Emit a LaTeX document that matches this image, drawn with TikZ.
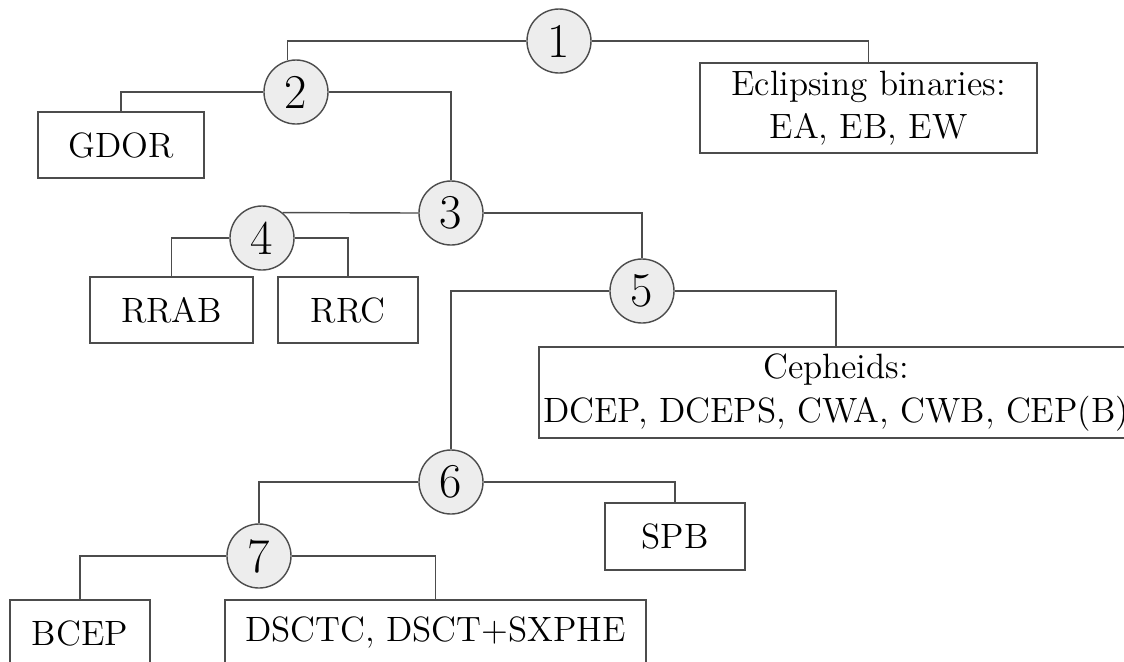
\documentclass[tikz,border=0pt]{standalone}
\begin{document}
\begin{tikzpicture}[
  x=0.0125cm, y=-0.0125cm,
  split/.style={circle, draw=black!70, line width=0.5pt, fill=black!7,
    minimum size=0.8cm, inner sep=0pt, font=\LARGE},
  leaf/.style={rectangle, draw=black!70, line width=0.5pt, align=center,
    inner sep=0pt, font=\fontsize{12.5}{15.5}\selectfont},
  link/.style={draw=black!70, line width=0.5pt}]
  \clip (0,0) rectangle (1124,661);
  \node[split] (n1) at (559,41) {1};
  \node[split] (n2) at (296,92) {2};
  \node[split] (n3) at (451,213) {3};
  \node[split] (n4) at (262,238) {4};
  \node[split] (n5) at (642,291) {5};
  \node[split] (n6) at (451,482) {6};
  \node[split] (n7) at (259,556) {7};
  \node[leaf, minimum width=2.075cm, minimum height=0.825cm] (gdor) at (121,145) {GDOR};
  \node[leaf, minimum width=4.21cm, minimum height=1.125cm] (ecl) at (868.5,108)
    {Eclipsing binaries:\\EA, EB, EW};
  \node[leaf, minimum width=2.04cm, minimum height=0.825cm] (rrab) at (171.5,310) {RRAB};
  \node[leaf, minimum width=1.75cm, minimum height=0.825cm] (rrc) at (348,310) {RRC};
  \node[leaf, minimum width=7.425cm, minimum height=1.14cm] (ceph) at (836,392.5)
    {Cepheids:\\DCEP, DCEPS, CWA, CWB, CEP(B)};
  \node[leaf, minimum width=1.75cm, minimum height=0.84cm] (spb) at (675,536.5) {SPB};
  \node[leaf, minimum width=1.75cm, minimum height=0.825cm] (bcep) at (80,633) {BCEP};
  \node[leaf, minimum width=5.26cm, minimum height=0.825cm] (dsct) at (435.5,633)
    {DSCTC, DSCT+SXPHE};
  \draw[link] (n1.west) -| (n2.105);
  \draw[link] (n1.east) -| (ecl.north);
  \draw[link] (n2.west) -| (gdor.north);
  \draw[link] (n2.east) -| (n3.north);
  \draw[link] (n3.west) -- (n4.51);
  \draw[link] (n3.east) -| (n5.north);
  \draw[link] (n4.west) -| (rrab.north);
  \draw[link] (n4.east) -| (rrc.north);
  \draw[link] (n5.west) -| (n6.north);
  \draw[link] (n5.east) -| (ceph.north);
  \draw[link] (n6.west) -| (n7.north);
  \draw[link] (n6.east) -| (spb.north);
  \draw[link] (n7.west) -| (bcep.north);
  \draw[link] (n7.east) -| (dsct.north);
\end{tikzpicture}
\end{document}
